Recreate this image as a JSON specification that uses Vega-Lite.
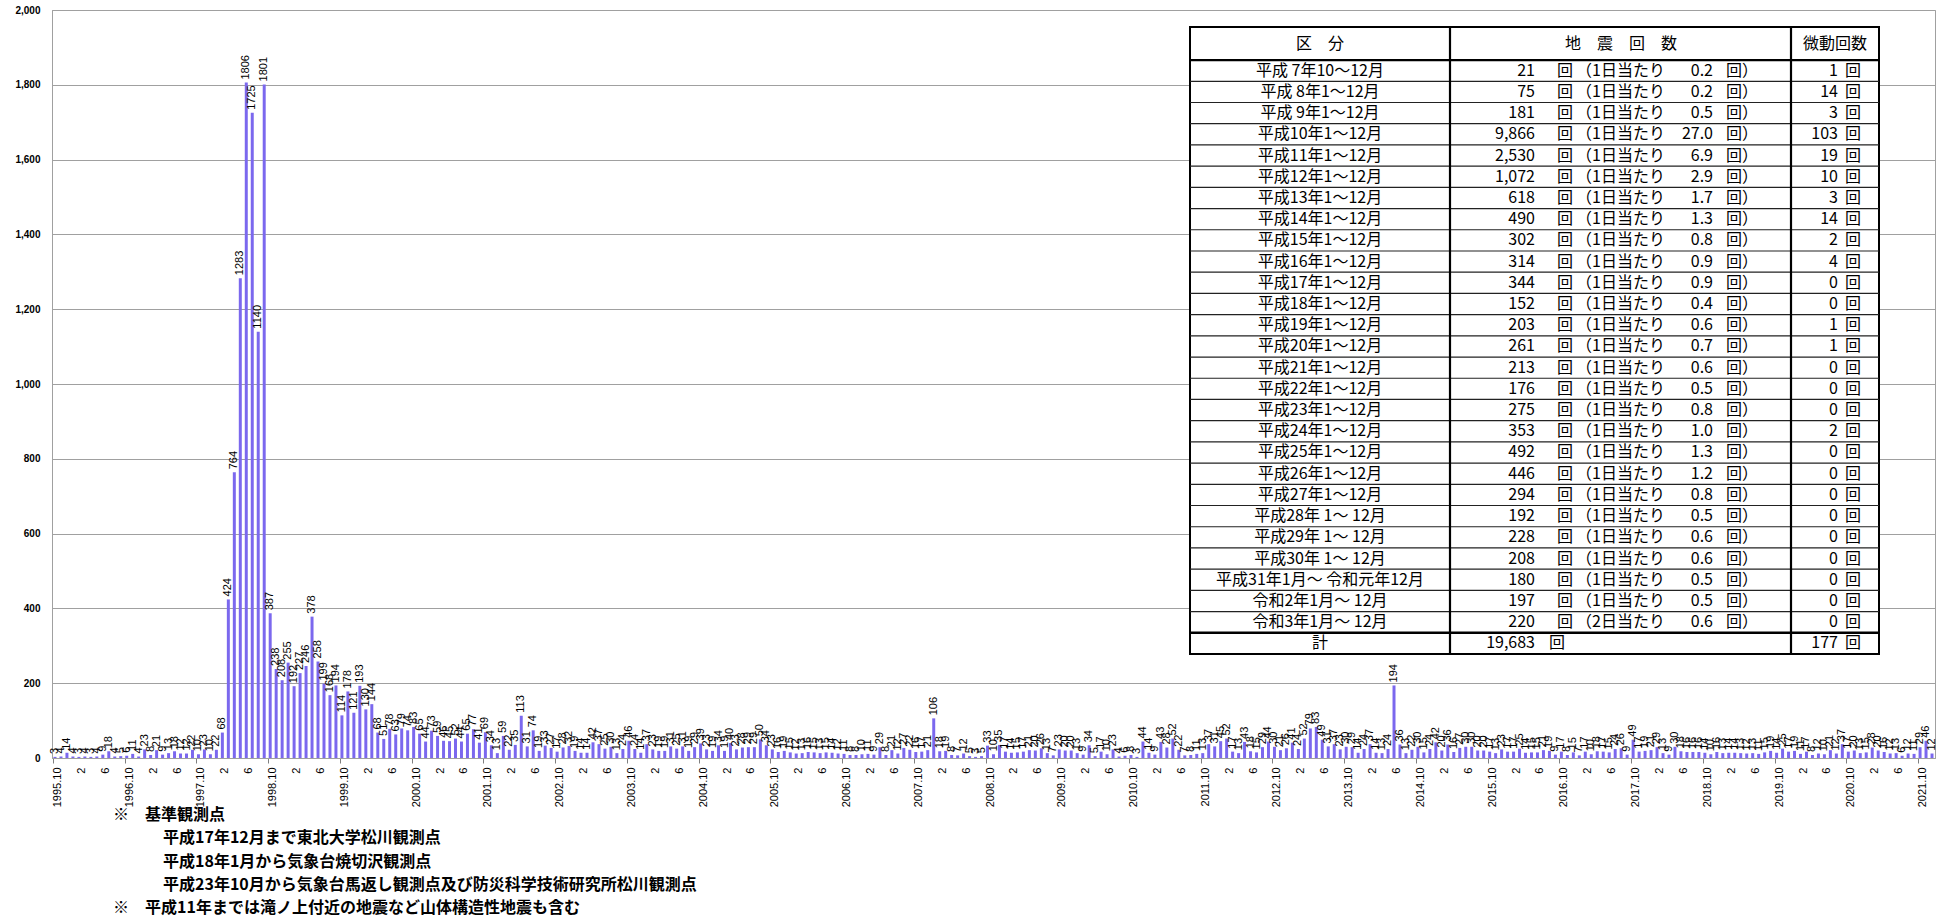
{
"$schema": "https://vega.github.io/schema/vega-lite/v6.json",
"width": 1883, "height": 748,
"autosize": {"type": "none"},
"padding": {"left": 52, "top": 10, "right": 2, "bottom": 165},
"background": "white",
"config": {"view": {"stroke": "#a0a0a0"}},
"datasets": {
"monthly": [
{"ym":"1995.10","count":3},{"ym":"1995.11","count":4},{"ym":"1995.12","count":14},
{"ym":"1996.1","count":4},{"ym":"1996.2","count":3},{"ym":"1996.3","count":4},{"ym":"1996.4","count":3},{"ym":"1996.5","count":4},{"ym":"1996.6","count":9},{"ym":"1996.7","count":18},{"ym":"1996.8","count":4},{"ym":"1996.9","count":5},{"ym":"1996.10","count":6},{"ym":"1996.11","count":11},{"ym":"1996.12","count":4},
{"ym":"1997.1","count":23},{"ym":"1997.2","count":8},{"ym":"1997.3","count":21},{"ym":"1997.4","count":9},{"ym":"1997.5","count":13},{"ym":"1997.6","count":18},{"ym":"1997.7","count":12},{"ym":"1997.8","count":12},{"ym":"1997.9","count":22},{"ym":"1997.10","count":10},{"ym":"1997.11","count":23},{"ym":"1997.12","count":10},
{"ym":"1998.1","count":22},{"ym":"1998.2","count":68},{"ym":"1998.3","count":424},{"ym":"1998.4","count":764},{"ym":"1998.5","count":1283},{"ym":"1998.6","count":1806},{"ym":"1998.7","count":1725},{"ym":"1998.8","count":1140},{"ym":"1998.9","count":1801},{"ym":"1998.10","count":387},{"ym":"1998.11","count":238},{"ym":"1998.12","count":208},
{"ym":"1999.1","count":255},{"ym":"1999.2","count":192},{"ym":"1999.3","count":227},{"ym":"1999.4","count":246},{"ym":"1999.5","count":378},{"ym":"1999.6","count":258},{"ym":"1999.7","count":199},{"ym":"1999.8","count":168},{"ym":"1999.9","count":194},{"ym":"1999.10","count":114},{"ym":"1999.11","count":178},{"ym":"1999.12","count":121},
{"ym":"2000.1","count":193},{"ym":"2000.2","count":130},{"ym":"2000.3","count":144},{"ym":"2000.4","count":68},{"ym":"2000.5","count":51},{"ym":"2000.6","count":78},{"ym":"2000.7","count":63},{"ym":"2000.8","count":79},{"ym":"2000.9","count":74},{"ym":"2000.10","count":83},{"ym":"2000.11","count":65},{"ym":"2000.12","count":44},
{"ym":"2001.1","count":73},{"ym":"2001.2","count":59},{"ym":"2001.3","count":46},{"ym":"2001.4","count":45},{"ym":"2001.5","count":52},{"ym":"2001.6","count":44},{"ym":"2001.7","count":65},{"ym":"2001.8","count":77},{"ym":"2001.9","count":41},{"ym":"2001.10","count":69},{"ym":"2001.11","count":34},{"ym":"2001.12","count":13},
{"ym":"2002.1","count":59},{"ym":"2002.2","count":22},{"ym":"2002.3","count":35},{"ym":"2002.4","count":113},{"ym":"2002.5","count":31},{"ym":"2002.6","count":74},{"ym":"2002.7","count":19},{"ym":"2002.8","count":33},{"ym":"2002.9","count":27},{"ym":"2002.10","count":17},{"ym":"2002.11","count":28},{"ym":"2002.12","count":32},
{"ym":"2003.1","count":19},{"ym":"2003.2","count":14},{"ym":"2003.3","count":14},{"ym":"2003.4","count":42},{"ym":"2003.5","count":37},{"ym":"2003.6","count":25},{"ym":"2003.7","count":30},{"ym":"2003.8","count":13},{"ym":"2003.9","count":24},{"ym":"2003.10","count":46},{"ym":"2003.11","count":24},{"ym":"2003.12","count":14},
{"ym":"2004.1","count":37},{"ym":"2004.2","count":23},{"ym":"2004.3","count":19},{"ym":"2004.4","count":19},{"ym":"2004.5","count":31},{"ym":"2004.6","count":25},{"ym":"2004.7","count":31},{"ym":"2004.8","count":19},{"ym":"2004.9","count":29},{"ym":"2004.10","count":39},{"ym":"2004.11","count":23},{"ym":"2004.12","count":19},
{"ym":"2005.1","count":34},{"ym":"2005.2","count":19},{"ym":"2005.3","count":40},{"ym":"2005.4","count":23},{"ym":"2005.5","count":28},{"ym":"2005.6","count":29},{"ym":"2005.7","count":29},{"ym":"2005.8","count":50},{"ym":"2005.9","count":34},{"ym":"2005.10","count":23},{"ym":"2005.11","count":16},{"ym":"2005.12","count":19},
{"ym":"2006.1","count":15},{"ym":"2006.2","count":12},{"ym":"2006.3","count":13},{"ym":"2006.4","count":16},{"ym":"2006.5","count":15},{"ym":"2006.6","count":13},{"ym":"2006.7","count":15},{"ym":"2006.8","count":14},{"ym":"2006.9","count":12},{"ym":"2006.10","count":11},{"ym":"2006.11","count":8},{"ym":"2006.12","count":8},
{"ym":"2007.1","count":10},{"ym":"2007.2","count":11},{"ym":"2007.3","count":9},{"ym":"2007.4","count":29},{"ym":"2007.5","count":8},{"ym":"2007.6","count":21},{"ym":"2007.7","count":12},{"ym":"2007.8","count":27},{"ym":"2007.9","count":22},{"ym":"2007.10","count":16},{"ym":"2007.11","count":17},{"ym":"2007.12","count":21},
{"ym":"2008.1","count":106},{"ym":"2008.2","count":18},{"ym":"2008.3","count":19},{"ym":"2008.4","count":8},{"ym":"2008.5","count":7},{"ym":"2008.6","count":12},{"ym":"2008.7","count":5},{"ym":"2008.8","count":3},{"ym":"2008.9","count":5},{"ym":"2008.10","count":33},{"ym":"2008.11","count":10},{"ym":"2008.12","count":35},
{"ym":"2009.1","count":17},{"ym":"2009.2","count":14},{"ym":"2009.3","count":15},{"ym":"2009.4","count":17},{"ym":"2009.5","count":21},{"ym":"2009.6","count":20},{"ym":"2009.7","count":26},{"ym":"2009.8","count":13},{"ym":"2009.9","count":7},{"ym":"2009.10","count":23},{"ym":"2009.11","count":20},{"ym":"2009.12","count":20},
{"ym":"2010.1","count":13},{"ym":"2010.2","count":9},{"ym":"2010.3","count":34},{"ym":"2010.4","count":5},{"ym":"2010.5","count":17},{"ym":"2010.6","count":10},{"ym":"2010.7","count":23},{"ym":"2010.8","count":4},{"ym":"2010.9","count":6},{"ym":"2010.10","count":8},{"ym":"2010.11","count":3},{"ym":"2010.12","count":44},
{"ym":"2011.1","count":14},{"ym":"2011.2","count":9},{"ym":"2011.3","count":43},{"ym":"2011.4","count":28},{"ym":"2011.5","count":52},{"ym":"2011.6","count":22},{"ym":"2011.7","count":7},{"ym":"2011.8","count":8},{"ym":"2011.9","count":11},{"ym":"2011.10","count":13},{"ym":"2011.11","count":37},{"ym":"2011.12","count":31},
{"ym":"2012.1","count":45},{"ym":"2012.2","count":52},{"ym":"2012.3","count":17},{"ym":"2012.4","count":13},{"ym":"2012.5","count":43},{"ym":"2012.6","count":18},{"ym":"2012.7","count":15},{"ym":"2012.8","count":29},{"ym":"2012.9","count":44},{"ym":"2012.10","count":30},{"ym":"2012.11","count":21},{"ym":"2012.12","count":26},
{"ym":"2013.1","count":41},{"ym":"2013.2","count":24},{"ym":"2013.3","count":52},{"ym":"2013.4","count":79},{"ym":"2013.5","count":83},{"ym":"2013.6","count":49},{"ym":"2013.7","count":31},{"ym":"2013.8","count":37},{"ym":"2013.9","count":23},{"ym":"2013.10","count":30},{"ym":"2013.11","count":29},{"ym":"2013.12","count":14},
{"ym":"2014.1","count":24},{"ym":"2014.2","count":37},{"ym":"2014.3","count":14},{"ym":"2014.4","count":13},{"ym":"2014.5","count":24},{"ym":"2014.6","count":194},{"ym":"2014.7","count":36},{"ym":"2014.8","count":13},{"ym":"2014.9","count":22},{"ym":"2014.10","count":30},{"ym":"2014.11","count":15},{"ym":"2014.12","count":24},
{"ym":"2015.1","count":42},{"ym":"2015.2","count":20},{"ym":"2015.3","count":36},{"ym":"2015.4","count":16},{"ym":"2015.5","count":27},{"ym":"2015.6","count":30},{"ym":"2015.7","count":30},{"ym":"2015.8","count":20},{"ym":"2015.9","count":20},{"ym":"2015.10","count":17},{"ym":"2015.11","count":13},{"ym":"2015.12","count":23},
{"ym":"2016.1","count":17},{"ym":"2016.2","count":17},{"ym":"2016.3","count":25},{"ym":"2016.4","count":14},{"ym":"2016.5","count":15},{"ym":"2016.6","count":15},{"ym":"2016.7","count":21},{"ym":"2016.8","count":19},{"ym":"2016.9","count":9},{"ym":"2016.10","count":17},{"ym":"2016.11","count":8},{"ym":"2016.12","count":15},
{"ym":"2017.1","count":7},{"ym":"2017.2","count":17},{"ym":"2017.3","count":10},{"ym":"2017.4","count":18},{"ym":"2017.5","count":17},{"ym":"2017.6","count":15},{"ym":"2017.7","count":24},{"ym":"2017.8","count":26},{"ym":"2017.9","count":9},{"ym":"2017.10","count":49},{"ym":"2017.11","count":17},{"ym":"2017.12","count":19},
{"ym":"2018.1","count":21},{"ym":"2018.2","count":29},{"ym":"2018.3","count":13},{"ym":"2018.4","count":9},{"ym":"2018.5","count":30},{"ym":"2018.6","count":18},{"ym":"2018.7","count":16},{"ym":"2018.8","count":16},{"ym":"2018.9","count":16},{"ym":"2018.10","count":14},{"ym":"2018.11","count":10},{"ym":"2018.12","count":16},
{"ym":"2019.1","count":13},{"ym":"2019.2","count":14},{"ym":"2019.3","count":14},{"ym":"2019.4","count":13},{"ym":"2019.5","count":12},{"ym":"2019.6","count":13},{"ym":"2019.7","count":11},{"ym":"2019.8","count":15},{"ym":"2019.9","count":19},{"ym":"2019.10","count":14},{"ym":"2019.11","count":25},{"ym":"2019.12","count":17},
{"ym":"2020.1","count":19},{"ym":"2020.2","count":11},{"ym":"2020.3","count":17},{"ym":"2020.4","count":8},{"ym":"2020.5","count":12},{"ym":"2020.6","count":10},{"ym":"2020.7","count":21},{"ym":"2020.8","count":12},{"ym":"2020.9","count":37},{"ym":"2020.10","count":17},{"ym":"2020.11","count":20},{"ym":"2020.12","count":13},
{"ym":"2021.1","count":15},{"ym":"2021.2","count":28},{"ym":"2021.3","count":20},{"ym":"2021.4","count":16},{"ym":"2021.5","count":12},{"ym":"2021.6","count":13},{"ym":"2021.7","count":6},{"ym":"2021.8","count":12},{"ym":"2021.9","count":11},{"ym":"2021.10","count":29},{"ym":"2021.11","count":46},{"ym":"2021.12","count":12}
],
"table": [
{"period":"平成 7年10～12月","quakes":"21","per":"（1日当たり","rate":"0.2","tremor":"1"},
{"period":"平成 8年1～12月","quakes":"75","per":"（1日当たり","rate":"0.2","tremor":"14"},
{"period":"平成 9年1～12月","quakes":"181","per":"（1日当たり","rate":"0.5","tremor":"3"},
{"period":"平成10年1～12月","quakes":"9,866","per":"（1日当たり","rate":"27.0","tremor":"103"},
{"period":"平成11年1～12月","quakes":"2,530","per":"（1日当たり","rate":"6.9","tremor":"19"},
{"period":"平成12年1～12月","quakes":"1,072","per":"（1日当たり","rate":"2.9","tremor":"10"},
{"period":"平成13年1～12月","quakes":"618","per":"（1日当たり","rate":"1.7","tremor":"3"},
{"period":"平成14年1～12月","quakes":"490","per":"（1日当たり","rate":"1.3","tremor":"14"},
{"period":"平成15年1～12月","quakes":"302","per":"（1日当たり","rate":"0.8","tremor":"2"},
{"period":"平成16年1～12月","quakes":"314","per":"（1日当たり","rate":"0.9","tremor":"4"},
{"period":"平成17年1～12月","quakes":"344","per":"（1日当たり","rate":"0.9","tremor":"0"},
{"period":"平成18年1～12月","quakes":"152","per":"（1日当たり","rate":"0.4","tremor":"0"},
{"period":"平成19年1～12月","quakes":"203","per":"（1日当たり","rate":"0.6","tremor":"1"},
{"period":"平成20年1～12月","quakes":"261","per":"（1日当たり","rate":"0.7","tremor":"1"},
{"period":"平成21年1～12月","quakes":"213","per":"（1日当たり","rate":"0.6","tremor":"0"},
{"period":"平成22年1～12月","quakes":"176","per":"（1日当たり","rate":"0.5","tremor":"0"},
{"period":"平成23年1～12月","quakes":"275","per":"（1日当たり","rate":"0.8","tremor":"0"},
{"period":"平成24年1～12月","quakes":"353","per":"（1日当たり","rate":"1.0","tremor":"2"},
{"period":"平成25年1～12月","quakes":"492","per":"（1日当たり","rate":"1.3","tremor":"0"},
{"period":"平成26年1～12月","quakes":"446","per":"（1日当たり","rate":"1.2","tremor":"0"},
{"period":"平成27年1～12月","quakes":"294","per":"（1日当たり","rate":"0.8","tremor":"0"},
{"period":"平成28年 1～ 12月","quakes":"192","per":"（1日当たり","rate":"0.5","tremor":"0"},
{"period":"平成29年 1～ 12月","quakes":"228","per":"（1日当たり","rate":"0.6","tremor":"0"},
{"period":"平成30年 1～ 12月","quakes":"208","per":"（1日当たり","rate":"0.6","tremor":"0"},
{"period":"平成31年1月～ 令和元年12月","quakes":"180","per":"（1日当たり","rate":"0.5","tremor":"0"},
{"period":"令和2年1月～ 12月","quakes":"197","per":"（1日当たり","rate":"0.5","tremor":"0"},
{"period":"令和3年1月～ 12月","quakes":"220","per":"（2日当たり","rate":"0.6","tremor":"0"},
{"period":"計","quakes":"19,683","per":"","rate":"","tremor":"177"}
],
"notes": [
{"t":"※　基準観測点","level":1},
{"t":"平成17年12月まで東北大学松川観測点","level":2},
{"t":"平成18年1月から気象台焼切沢観測点","level":2},
{"t":"平成23年10月から気象台馬返し観測点及び防災科学技術研究所松川観測点","level":2},
{"t":"※　平成11年までは滝ノ上付近の地震など山体構造性地震も含む","level":1}
]
},
"layer": [
{
"data": {"name": "monthly"},
"layer": [
{"mark": {"type": "bar", "color": "#7b68ee"},
 "encoding": {
  "x": {"field": "ym", "type": "ordinal", "sort": null,
   "scale": {"paddingInner": 0.5, "paddingOuter": 0.25},
   "axis": {"title": null, "bandPosition": 0, "labelOffset": 3, "labelAngle": 270, "labelAlign": "right", "labelBaseline": "middle", "labelFontSize": 11, "labelFont": "Liberation Sans", "labelColor": "#000", "labelOverlap": false, "labelPadding": 4,
    "labelExpr": "slice(datum.value,-3)=='.10' ? datum.value : (slice(datum.value,-2)=='.2' ? '2' : (slice(datum.value,-2)=='.6' ? '6' : ''))",
    "tickSize": 5, "tickColor": "#808080",
    "tickOpacity": {"condition": {"test": "slice(datum.value,-3)=='.10'", "value": 1}, "value": 0},
    "domainColor": "#a0a0a0", "grid": false}},
  "y": {"field": "count", "type": "quantitative", "scale": {"domain": [0, 2000], "nice": false},
   "axis": {"title": null, "values": [0,200,400,600,800,1000,1200,1400,1600,1800,2000], "format": ",d", "labelFontSize": 10, "labelFontWeight": "bold", "labelFont": "Liberation Sans", "labelColor": "#000", "labelPadding": 12, "ticks": false, "gridColor": "#a0a0a0", "domainColor": "#a0a0a0"}}
 }},
{"mark": {"type": "text", "angle": 270, "align": "left", "baseline": "middle", "dx": 3, "fontSize": 11, "font": "Liberation Sans Narrow, Liberation Sans, sans-serif", "color": "#000"},
 "encoding": {
  "x": {"field": "ym", "type": "ordinal", "sort": null},
  "y": {"field": "count", "type": "quantitative"},
  "text": {"field": "count", "type": "quantitative"}
 }}
]
},
{
"data": {"name": "table"},
"transform": [{"window": [{"op": "row_number", "as": "r"}]}],
"layer": [
{"data": {"values": [{}]},
 "mark": {"type": "rect", "fill": "white", "stroke": "#000", "strokeWidth": 2},
 "encoding": {
  "x": {"datum": 0, "type": "quantitative", "scale": {"domain": [0, 689], "range": [1138, 1827], "nice": false, "zero": false}, "axis": null},
  "x2": {"datum": 689},
  "y": {"datum": -1.06, "type": "quantitative", "scale": {"domain": [-1.06, 28.5], "range": [17, 644], "nice": false, "zero": false}, "axis": null},
  "y2": {"datum": 28.5}
 }},
{"mark": {"type": "rule", "color": "#222", "strokeWidth": 1.2, "yOffset": 10.6},
 "transform": [{"filter": "datum.r < 27"}],
 "encoding": {
  "x": {"datum": 0, "type": "quantitative", "scale": {"domain": [0, 689], "range": [1138, 1827], "nice": false, "zero": false}, "axis": null},
  "x2": {"datum": 689},
  "y": {"field": "r", "type": "quantitative", "scale": {"domain": [-1.06, 28.5], "range": [17, 644], "nice": false, "zero": false}, "axis": null}
 }},
{"data": {"values": [{}]},
 "mark": {"type": "rule", "color": "#000", "strokeWidth": 2.2},
 "encoding": {
  "x": {"datum": 0, "type": "quantitative", "scale": {"domain": [0, 689], "range": [1138, 1827], "nice": false, "zero": false}, "axis": null},
  "x2": {"datum": 689},
  "y": {"datum": 0.5, "type": "quantitative", "scale": {"domain": [-1.06, 28.5], "range": [17, 644], "nice": false, "zero": false}, "axis": null}
 }},
{"data": {"values": [{}]},
 "mark": {"type": "rule", "color": "#000", "strokeWidth": 2.5},
 "encoding": {
  "x": {"datum": 0, "type": "quantitative", "scale": {"domain": [0, 689], "range": [1138, 1827], "nice": false, "zero": false}, "axis": null},
  "x2": {"datum": 689},
  "y": {"datum": 27.5, "type": "quantitative", "scale": {"domain": [-1.06, 28.5], "range": [17, 644], "nice": false, "zero": false}, "axis": null}
 }},
{"data": {"values": [{}]},
 "mark": {"type": "rule", "color": "#000", "strokeWidth": 2.2},
 "encoding": {
  "x": {"datum": 260, "type": "quantitative", "scale": {"domain": [0, 689], "range": [1138, 1827], "nice": false, "zero": false}, "axis": null},
  "y": {"datum": -1.06, "type": "quantitative", "scale": {"domain": [-1.06, 28.5], "range": [17, 644], "nice": false, "zero": false}, "axis": null},
  "y2": {"datum": 28.5}
 }},
{"data": {"values": [{}]},
 "mark": {"type": "rule", "color": "#000", "strokeWidth": 2.2},
 "encoding": {
  "x": {"datum": 601, "type": "quantitative", "scale": {"domain": [0, 689], "range": [1138, 1827], "nice": false, "zero": false}, "axis": null},
  "y": {"datum": -1.06, "type": "quantitative", "scale": {"domain": [-1.06, 28.5], "range": [17, 644], "nice": false, "zero": false}, "axis": null},
  "y2": {"datum": 28.5}
 }},
{"data": {"values": [{}]},
 "mark": {"type": "text", "align": "center", "baseline": "middle", "fontSize": 16, "font": "Noto Sans CJK JP", "color": "#000"},
 "encoding": {
  "x": {"datum": 130, "type": "quantitative", "scale": {"domain": [0, 689], "range": [1138, 1827], "nice": false, "zero": false}, "axis": null},
  "y": {"datum": -0.28, "type": "quantitative", "scale": {"domain": [-1.06, 28.5], "range": [17, 644], "nice": false, "zero": false}, "axis": null},
  "text": {"value": "区　分"}
 }},
{"data": {"values": [{}]},
 "mark": {"type": "text", "align": "center", "baseline": "middle", "fontSize": 16, "font": "Noto Sans CJK JP", "color": "#000"},
 "encoding": {
  "x": {"datum": 431, "type": "quantitative", "scale": {"domain": [0, 689], "range": [1138, 1827], "nice": false, "zero": false}, "axis": null},
  "y": {"datum": -0.28, "type": "quantitative", "scale": {"domain": [-1.06, 28.5], "range": [17, 644], "nice": false, "zero": false}, "axis": null},
  "text": {"value": "地　震　回　数"}
 }},
{"data": {"values": [{}]},
 "mark": {"type": "text", "align": "center", "baseline": "middle", "fontSize": 16, "font": "Noto Sans CJK JP", "color": "#000"},
 "encoding": {
  "x": {"datum": 645, "type": "quantitative", "scale": {"domain": [0, 689], "range": [1138, 1827], "nice": false, "zero": false}, "axis": null},
  "y": {"datum": -0.28, "type": "quantitative", "scale": {"domain": [-1.06, 28.5], "range": [17, 644], "nice": false, "zero": false}, "axis": null},
  "text": {"value": "微動回数"}
 }},
{"mark": {"type": "text", "align": "center", "baseline": "middle", "fontSize": 16, "font": "Noto Sans CJK JP", "color": "#000"},
 "encoding": {
  "x": {"datum": 130, "type": "quantitative", "scale": {"domain": [0, 689], "range": [1138, 1827], "nice": false, "zero": false}, "axis": null},
  "y": {"field": "r", "type": "quantitative", "scale": {"domain": [-1.06, 28.5], "range": [17, 644], "nice": false, "zero": false}, "axis": null},
  "text": {"field": "period"}
 }},
{"mark": {"type": "text", "align": "right", "baseline": "middle", "fontSize": 16, "font": "Noto Sans CJK JP", "color": "#000"},
 "encoding": {
  "x": {"datum": 345, "type": "quantitative", "scale": {"domain": [0, 689], "range": [1138, 1827], "nice": false, "zero": false}, "axis": null},
  "y": {"field": "r", "type": "quantitative", "scale": {"domain": [-1.06, 28.5], "range": [17, 644], "nice": false, "zero": false}, "axis": null},
  "text": {"field": "quakes"}
 }},
{"mark": {"type": "text", "align": "center", "baseline": "middle", "fontSize": 16, "font": "Noto Sans CJK JP", "color": "#000"},
 "transform": [{"filter": "datum.rate != ''"}],
 "encoding": {
  "x": {"datum": 375, "type": "quantitative", "scale": {"domain": [0, 689], "range": [1138, 1827], "nice": false, "zero": false}, "axis": null},
  "y": {"field": "r", "type": "quantitative", "scale": {"domain": [-1.06, 28.5], "range": [17, 644], "nice": false, "zero": false}, "axis": null},
  "text": {"value": "回"}
 }},
{"mark": {"type": "text", "align": "center", "baseline": "middle", "fontSize": 16, "font": "Noto Sans CJK JP", "color": "#000"},
 "transform": [{"filter": "datum.rate == ''"}],
 "encoding": {
  "x": {"datum": 367, "type": "quantitative", "scale": {"domain": [0, 689], "range": [1138, 1827], "nice": false, "zero": false}, "axis": null},
  "y": {"field": "r", "type": "quantitative", "scale": {"domain": [-1.06, 28.5], "range": [17, 644], "nice": false, "zero": false}, "axis": null},
  "text": {"value": "回"}
 }},
{"mark": {"type": "text", "align": "left", "baseline": "middle", "fontSize": 16, "font": "Noto Sans CJK JP", "color": "#000"},
 "transform": [{"filter": "datum.rate != ''"}],
 "encoding": {
  "x": {"datum": 386, "type": "quantitative", "scale": {"domain": [0, 689], "range": [1138, 1827], "nice": false, "zero": false}, "axis": null},
  "y": {"field": "r", "type": "quantitative", "scale": {"domain": [-1.06, 28.5], "range": [17, 644], "nice": false, "zero": false}, "axis": null},
  "text": {"field": "per"}
 }},
{"mark": {"type": "text", "align": "right", "baseline": "middle", "fontSize": 16, "font": "Noto Sans CJK JP", "color": "#000"},
 "encoding": {
  "x": {"datum": 523, "type": "quantitative", "scale": {"domain": [0, 689], "range": [1138, 1827], "nice": false, "zero": false}, "axis": null},
  "y": {"field": "r", "type": "quantitative", "scale": {"domain": [-1.06, 28.5], "range": [17, 644], "nice": false, "zero": false}, "axis": null},
  "text": {"field": "rate"}
 }},
{"mark": {"type": "text", "align": "left", "baseline": "middle", "fontSize": 16, "font": "Noto Sans CJK JP", "color": "#000"},
 "transform": [{"filter": "datum.rate != ''"}],
 "encoding": {
  "x": {"datum": 536, "type": "quantitative", "scale": {"domain": [0, 689], "range": [1138, 1827], "nice": false, "zero": false}, "axis": null},
  "y": {"field": "r", "type": "quantitative", "scale": {"domain": [-1.06, 28.5], "range": [17, 644], "nice": false, "zero": false}, "axis": null},
  "text": {"value": "回）"}
 }},
{"mark": {"type": "text", "align": "right", "baseline": "middle", "fontSize": 16, "font": "Noto Sans CJK JP", "color": "#000"},
 "encoding": {
  "x": {"datum": 648, "type": "quantitative", "scale": {"domain": [0, 689], "range": [1138, 1827], "nice": false, "zero": false}, "axis": null},
  "y": {"field": "r", "type": "quantitative", "scale": {"domain": [-1.06, 28.5], "range": [17, 644], "nice": false, "zero": false}, "axis": null},
  "text": {"field": "tremor"}
 }},
{"mark": {"type": "text", "align": "center", "baseline": "middle", "fontSize": 16, "font": "Noto Sans CJK JP", "color": "#000"},
 "encoding": {
  "x": {"datum": 663, "type": "quantitative", "scale": {"domain": [0, 689], "range": [1138, 1827], "nice": false, "zero": false}, "axis": null},
  "y": {"field": "r", "type": "quantitative", "scale": {"domain": [-1.06, 28.5], "range": [17, 644], "nice": false, "zero": false}, "axis": null},
  "text": {"value": "回"}
 }}
]
},
{
"data": {"name": "notes"},
"mark": {"type": "text", "align": "left", "baseline": "middle", "fontSize": 16, "fontWeight": "bold", "font": "Noto Sans CJK JP", "color": "#000"},
"encoding": {
 "x": {"field": "level", "type": "ordinal", "scale": {"type": "point", "domain": [1, 2], "range": [61, 111], "padding": 0}, "axis": null},
 "y": {"field": "t", "type": "nominal", "sort": null, "scale": {"type": "point", "domain": ["※　基準観測点", "平成17年12月まで東北大学松川観測点", "平成18年1月から気象台焼切沢観測点", "平成23年10月から気象台馬返し観測点及び防災科学技術研究所松川観測点", "※　平成11年までは滝ノ上付近の地震など山体構造性地震も含む"], "range": [805, 898], "padding": 0}, "axis": null},
 "text": {"field": "t"}
}
}
],
"resolve": {"scale": {"x": "independent", "y": "independent"}}
}
